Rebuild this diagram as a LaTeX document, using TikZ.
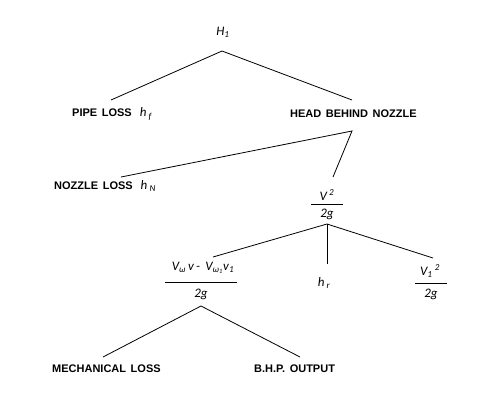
\documentclass[tikz,border=0pt]{standalone}
\usepackage{fontspec}
\newfontfamily\labfont{Liberation Sans}
\newfontfamily\mthfont{Carlito}
\newcommand{\mymath}{\normalfont\mthfont\itshape\fontsize{13}{15}\selectfont}
\newcommand{\mylab}{\labfont\bfseries\fontsize{11}{13}\selectfont\spaceskip=4.6pt\relax}
\begin{document}
\begin{tikzpicture}[x=1pt,y=-1pt,
  lab/.style={inner sep=0pt,anchor=west,font=\mylab},
  mth/.style={inner sep=0pt,font=\mymath},
  conn/.style={line width=0.8pt,black},
  rulestyle/.style={line width=0.7pt,black}]
\useasboundingbox (0,0) rectangle (500,400);
% nodes
\node[mth] (H1) at (223,32) {H\textsubscript{1}};
\node[lab] (pipe) at (72,114) {PIPE LOSS\hspace{8pt}{\mymath h\,\textsubscript{f}}};
\node[lab] (hbn) at (290,114) {HEAD BEHIND NOZZLE};
\node[lab] (nozz) at (54,186) {NOZZLE LOSS\hspace{8pt}{\mymath h\,\textsubscript{N}}};
\node[mth] (v2num) at (327,195) {V\,\textsuperscript{2}};
\node[mth] (v2den) at (327,214) {2g};
\node[mth] (f1num) at (203,268) {V\textsubscript{ω}\,v\,-\, V\textsubscript{ω\textsubscript{1}}v\textsubscript{1}};
\node[mth] (f1den) at (201,294) {2g};
\node[mth] (hr) at (324,283) {h\,\textsubscript{r}};
\node[mth] (v1num) at (430,271) {V\textsubscript{1}\,\textsuperscript{2}};
\node[mth] (v1den) at (431,294) {2g};
\node[lab] (mech) at (52,369) {MECHANICAL LOSS};
\node[lab] (bhp) at (254,369) {B.H.P. OUTPUT};
% fraction rules
\coordinate (r1a) at (311,204); \coordinate (r1b) at (343,204);
\coordinate (r2a) at (165,282); \coordinate (r2b) at (237,282);
\coordinate (r3a) at (415,283); \coordinate (r3b) at (447,283);
\draw[rulestyle] (r1a) -- (r1b);
\draw[rulestyle] (r2a) -- (r2b);
\draw[rulestyle] (r3a) -- (r3b);
% connector coordinates
\coordinate (a1) at (222,51);
\coordinate (pipetop) at (111,100);
\coordinate (hbntop) at (352,100);
\coordinate (a2) at (352,131);
\coordinate (nozztop) at (121,177);
\coordinate (v2top) at (333,177);
\coordinate (a3) at (327,224);
\coordinate (f1top) at (213,257);
\coordinate (hrtop) at (327,264);
\coordinate (v1top) at (433,258);
\coordinate (a4) at (201,306);
\coordinate (mechtop) at (103,357);
\coordinate (bhptop) at (300,357);
% connectors
\draw[conn] (pipetop) -- (a1) -- (hbntop);
\draw[conn] (nozztop) -- (a2) -- (v2top);
\draw[conn] (f1top) -- (a3) -- (v1top);
\draw[conn] (a3) -- (hrtop);
\draw[conn] (mechtop) -- (a4) -- (bhptop);
\end{tikzpicture}
\end{document}
